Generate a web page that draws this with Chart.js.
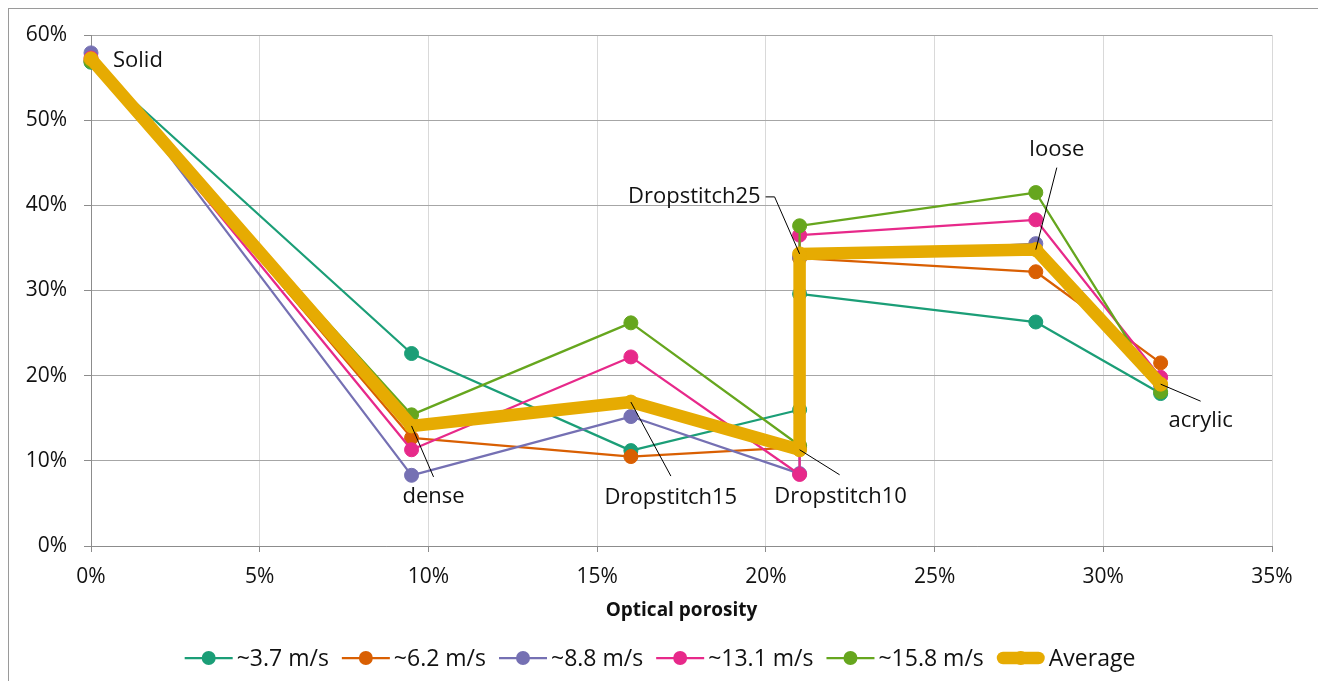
<!DOCTYPE html>
<html>
<head>
<meta charset="utf-8">
<script src="https://cdn.jsdelivr.net/npm/chart.js@4.4.1/dist/chart.umd.min.js"></script>
<style>
  html, body { margin: 0; padding: 0; background: #fff; }
  #wrap { position: relative; width: 1318px; height: 681px; overflow: hidden; }
  #frame { position: absolute; left: 8px; top: 8px; right: -10px; bottom: -10px;
           border-left: 1px solid #9a9a9a; border-top: 1px solid #9a9a9a; pointer-events: none; }
  canvas { display: block; }
</style>
</head>
<body>
<div id="wrap">
  <canvas id="c" width="1318" height="681"></canvas>
  <div id="frame"></div>
</div>
<script>
// Optical porosity of each sample (%)
const porosity = [0, 9.5, 16, 21, 21, 28, 31.7];
const sampleNames = ['Solid', 'dense', 'Dropstitch15', 'Dropstitch10', 'Dropstitch25', 'loose', 'acrylic'];

// Measured values (%) per wind speed
const seriesNames = ['~3.7 m/s', '~6.2 m/s', '~8.8 m/s', '~13.1 m/s', '~15.8 m/s', 'Average'];
const v3_7  = [56.8, 22.6, 11.2, 16.0, 29.6, 26.3, 17.9];
const v6_2  = [57.0, 12.7, 10.5, 11.6, 33.8, 32.2, 21.5];
const v8_8  = [57.9,  8.3, 15.2,  8.5, 33.9, 35.5, 18.8];
const v13_1 = [57.3, 11.3, 22.2,  8.4, 36.5, 38.3, 19.8];
const v15_8 = [56.9, 15.4, 26.2, 11.8, 37.6, 41.5, 18.1];
const vAvg  = [57.2, 14.1, 16.9, 11.3, 34.3, 34.8, 19.0];

const seriesValues = [v3_7, v6_2, v8_8, v13_1, v15_8, vAvg];
const seriesColors = ['#1b9e77', '#d95f02', '#7570b3', '#e7298a', '#66a61e', '#e6ab02'];

// Axis ranges (%)
const xMin = 0, xMax = 35, xStep = 5;
const yMin = 0, yMax = 60, yStep = 10;

const FONT = '"Open Sans", "Noto Sans", sans-serif';
const TEXT = '#111111';

Chart.defaults.font.family = FONT;
Chart.defaults.color = TEXT;

const datasets = seriesValues.map((vals, i) => {
  const isAvg = i === seriesValues.length - 1;
  return {
    label: seriesNames[i],
    data: vals.map((v, k) => ({ x: porosity[k], y: v })),
    borderColor: seriesColors[i],
    backgroundColor: seriesColors[i],
    pointBackgroundColor: seriesColors[i],
    pointBorderColor: seriesColors[i],
    borderWidth: isAvg ? 12.5 : 2.25,
    pointRadius: 7,
    pointBorderWidth: 1,
    borderJoinStyle: 'round',
    borderCapStyle: isAvg ? 'round' : 'butt',
    tension: 0,
    fill: false,
    clip: false,
    order: seriesValues.length - i
  };
});

// Labels with leader lines next to the average curve
const sampleLabelPlugin = {
  id: 'sampleLabels',
  afterDatasetsDraw(chart, args, opts) {
    const { ctx, scales: { x, y } } = chart;
    ctx.save();
    ctx.font = opts.font;
    ctx.fillStyle = TEXT;
    ctx.strokeStyle = '#000';
    ctx.lineWidth = 1;
    ctx.textBaseline = 'middle';
    opts.placements.forEach((p, i) => {
      const px = x.getPixelForValue(porosity[i]);
      const py = y.getPixelForValue(vAvg[i]);
      if (p.path && p.path.length) {
        ctx.beginPath();
        ctx.moveTo(px, py);
        p.path.forEach(([dx, dy]) => ctx.lineTo(px + dx, py + dy));
        ctx.stroke();
      }
      ctx.textAlign = p.align;
      ctx.fillText(sampleNames[i], px + p.text[0], py + p.text[1]);
    });
    ctx.restore();
  }
};

// Legend row: line swatch with marker, then series name
const seriesLegendPlugin = {
  id: 'seriesLegend',
  afterDraw(chart, args, opts) {
    const ctx = chart.ctx;
    ctx.save();
    ctx.font = opts.font;
    const items = chart.data.datasets.map(ds => {
      const tw = ctx.measureText(ds.label).width;
      return { ds, w: opts.swatch + opts.textGap + tw };
    });
    const total = items.reduce((s, it) => s + it.w, 0) + opts.itemGap * (items.length - 1);
    let x0 = opts.centerX - total / 2;
    const y0 = opts.y;
    items.forEach(({ ds, w }) => {
      const thick = ds.borderWidth > 4;
      const inset = thick ? ds.borderWidth / 2 : 0;
      ctx.strokeStyle = ds.borderColor;
      ctx.lineWidth = ds.borderWidth;
      ctx.lineCap = ds.borderCapStyle;
      ctx.beginPath();
      ctx.moveTo(x0 + inset, y0);
      ctx.lineTo(x0 + opts.swatch - inset, y0);
      ctx.stroke();
      ctx.fillStyle = ds.pointBackgroundColor;
      ctx.beginPath();
      ctx.arc(x0 + opts.swatch / 2, y0, ds.pointRadius, 0, Math.PI * 2);
      ctx.fill();
      ctx.fillStyle = TEXT;
      ctx.textAlign = 'left';
      ctx.textBaseline = 'middle';
      ctx.fillText(ds.label, x0 + opts.swatch + opts.textGap, y0 + 1);
      x0 += w + opts.itemGap;
    });
    ctx.restore();
  }
};

new Chart(document.getElementById('c'), {
  type: 'line',
  data: { datasets },
  plugins: [sampleLabelPlugin, seriesLegendPlugin],
  options: {
    responsive: false,
    animation: false,
    devicePixelRatio: 1,
    events: [],
    layout: { padding: { left: 0, right: 46, top: 35, bottom: 55 } },
    scales: {
      x: {
        type: 'linear',
        position: 'bottom',
        min: xMin, max: xMax,
        afterFit: s => { s.height = 80; },
        ticks: {
          stepSize: xStep,
          padding: 12,
          font: { size: 21 },
          color: TEXT,
          maxRotation: 0,
          callback: v => v + '%'
        },
        grid: { color: '#d9d9d9', lineWidth: 1, tickLength: 6, tickColor: '#8c8c8c', drawTicks: true },
        border: { display: true, color: '#8c8c8c', width: 1 },
        title: {
          display: true,
          text: 'Optical porosity',
          font: { size: 19, weight: 'bold' },
          color: TEXT,
          padding: { top: 0, bottom: 4 }
        }
      },
      y: {
        min: yMin, max: yMax,
        afterFit: s => { s.width = 91; },
        ticks: {
          stepSize: yStep,
          padding: 17,
          font: { size: 21 },
          color: TEXT,
          callback: v => v + '%'
        },
        grid: { color: '#a6a6a6', lineWidth: 1, tickLength: 7, tickColor: '#8c8c8c', drawTicks: true },
        border: { display: true, color: '#8c8c8c', width: 1 }
      }
    },
    plugins: {
      legend: { display: false },
      tooltip: { enabled: false },
      sampleLabels: {
        font: '22px ' + FONT,
        placements: [
          { path: [], text: [22, 2], align: 'left' },
          { path: [[22, 51]], text: [22, 71], align: 'center' },
          { path: [[40, 74]], text: [40, 96], align: 'center' },
          { path: [[40, 25]], text: [41, 47], align: 'center' },
          { path: [[-25, -57], [-34, -57]], text: [-39, -57], align: 'right' },
          { path: [[21, -82]], text: [21, -100], align: 'center' },
          { path: [[40, 17]], text: [40, 37], align: 'center' }
        ]
      },
      seriesLegend: {
        font: '23px ' + FONT,
        swatch: 48,
        textGap: 4,
        itemGap: 13,
        centerX: 660,
        y: 658
      }
    }
  }
});
</script>
</body>
</html>
